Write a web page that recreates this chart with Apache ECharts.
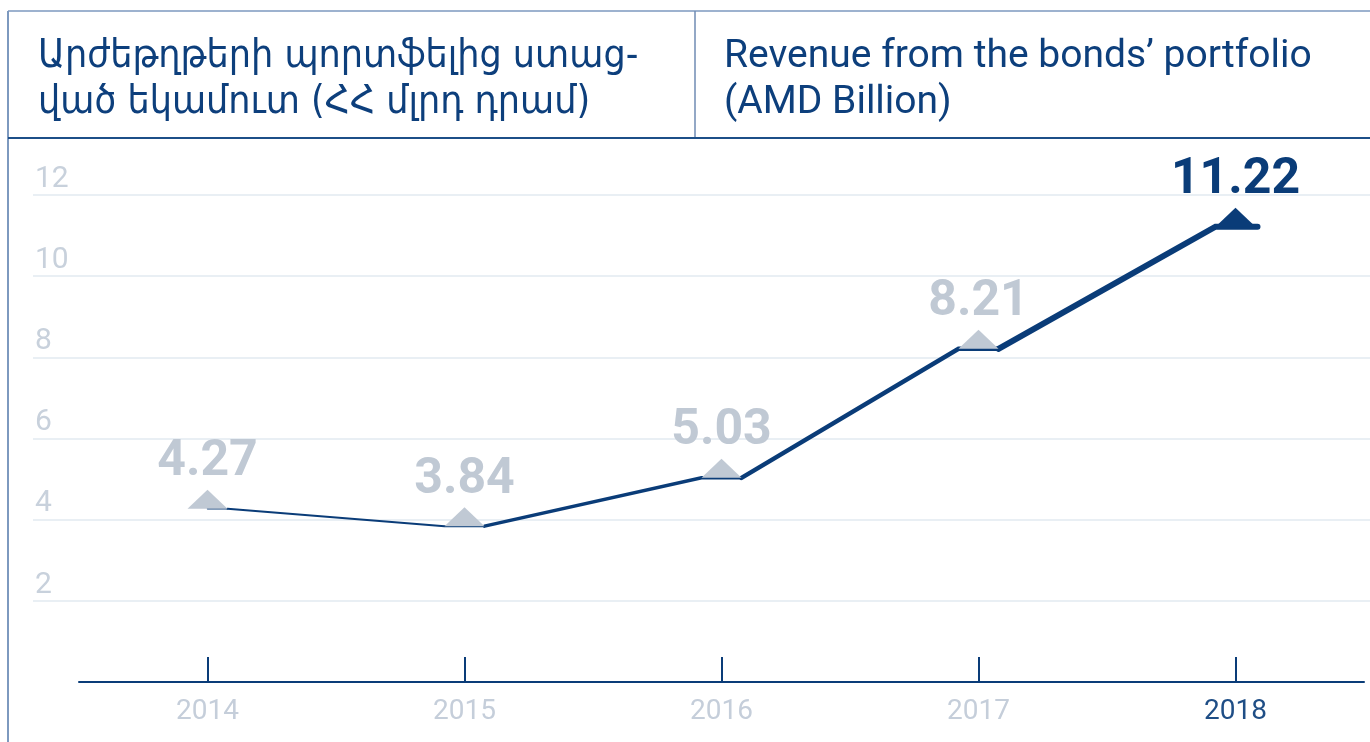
<!DOCTYPE html>
<html>
<head>
<meta charset="utf-8">
<script src="https://cdn.jsdelivr.net/npm/echarts@6/dist/echarts.min.js"></script>
<style>
html,body{margin:0;padding:0;background:#fff;}
#chart{width:1370px;height:742px;}
</style>
</head>
<body>
<div id="chart"></div>
<script>
// ---- data ----
const categories = ['2014', '2015', '2016', '2017', '2018'];
const values = [4.27, 3.84, 5.03, 8.21, 11.22];
const valueLabels = ['4.27', '3.84', '5.03', '8.21', '11.22'];
const yTicks = [2, 4, 6, 8, 10, 12];
const titleAm = ['Արժեթղթերի պորտֆելից ստաց-', 'ված եկամուտ (ՀՀ մլրդ դրամ)'];
const titleEn = ['Revenue from the bonds’ portfolio', '(AMD Billion)'];

// ---- styles ----
const NAVY = '#0a3c78';
const GRAY = '#c0c9d4';
const TEXT_NAVY = '#0d3f7c';
const segWidths = [1.5, 2, 3.5, 4.5, 6];
const last = categories.length - 1;

const chart = echarts.init(document.getElementById('chart'), null, {renderer: 'canvas'});

const lineData = values.map((v, i) => [i, v, i > 0 ? values[i - 1] : v]);
const triData = values.map((v, i) => ({
  value: [categories[i], v],
  itemStyle: {color: i === last ? NAVY : GRAY, opacity: 1},
  label: {color: i === last ? NAVY : GRAY, formatter: valueLabels[i]}
}));

const option = {
  animation: false,
  backgroundColor: '#fff',
  grid: [
    {left: 33, right: 0, top: 195, bottom: 141},
    {left: 79, right: 6, top: 195, bottom: 60}
  ],
  xAxis: [
    {gridIndex: 0, type: 'value', show: false, min: 0, max: 1},
    {
      gridIndex: 1, type: 'category', data: categories, boundaryGap: true,
      axisLine: {show: true, lineStyle: {color: NAVY, width: 2}},
      axisTick: {show: true, inside: true, length: 25, alignWithLabel: true, lineStyle: {color: NAVY, width: 2}},
      axisLabel: {
        margin: 16,
        formatter: (v, i) => i === last ? '{hi|' + v + '}' : '{lo|' + v + '}',
        rich: {
          lo: {color: '#c5ceda', fontSize: 28, fontFamily: 'Roboto'},
          hi: {color: '#1f4e86', fontSize: 28, fontFamily: 'Roboto'}
        }
      },
      splitLine: {show: false}
    }
  ],
  yAxis: [
    {
      gridIndex: 0, type: 'value', min: yTicks[0], max: yTicks[yTicks.length - 1], interval: 2,
      axisLine: {show: false}, axisTick: {show: false},
      axisLabel: {inside: true, margin: 2, verticalAlign: 'bottom', padding: [0, 0, 1, 0],
        color: '#c8d1dc', fontSize: 30, fontFamily: 'Roboto'},
      splitLine: {show: true, lineStyle: {color: '#e2eaf1', width: 1.5}}
    },
    {
      gridIndex: 1, type: 'value', min: 0, max: 12, interval: 2, show: false,
      splitLine: {show: false}
    }
  ],
  series: [
    {
      type: 'custom',
      xAxisIndex: 1, yAxisIndex: 1,
      clip: false,
      z: 2,
      data: lineData,
      renderItem: function (params, api) {
        const i = api.value(0);
        const cur = api.coord([i, api.value(1)]);
        const w = segWidths[i];
        let pts;
        if (i === 0) {
          pts = [[cur[0], cur[1]], [cur[0] + 20, cur[1]]];
        } else {
          const prev = api.coord([i - 1, api.value(2)]);
          pts = [[prev[0] + 20, prev[1]], [cur[0] - 20, cur[1]], [cur[0] + (i === last ? 22 : 20), cur[1]]];
        }
        return {
          type: 'polyline',
          shape: {points: pts},
          style: {stroke: NAVY, lineWidth: w, fill: null, lineCap: 'round', lineJoin: 'miter'}
        };
      }
    },
    {
      type: 'scatter',
      xAxisIndex: 1, yAxisIndex: 1,
      z: 3,
      symbol: 'triangle',
      symbolSize: [40, 19],
      symbolOffset: [0, -9.5],
      itemStyle: {opacity: 1},
      data: triData,
      label: {
        show: true, position: 'top', distance: 2,
        fontSize: 50, fontWeight: 'bold', fontFamily: 'Roboto', lineHeight: 50
      }
    }
  ],
  graphic: [
    {type: 'line', shape: {x1: 8, y1: 11, x2: 1370, y2: 11}, style: {stroke: '#7d99bf', lineWidth: 1.5}, z: 10},
    {type: 'line', shape: {x1: 8, y1: 11, x2: 8, y2: 742}, style: {stroke: '#7d99bf', lineWidth: 2}, z: 10},
    {type: 'line', shape: {x1: 695, y1: 11, x2: 695, y2: 138}, style: {stroke: '#6f8bb3', lineWidth: 1.5}, z: 10},
    {type: 'line', shape: {x1: 8, y1: 138, x2: 1370, y2: 138}, style: {stroke: '#1c4f88', lineWidth: 2}, z: 10},
    {type: 'text', x: 38, y: 57, style: {text: titleAm[0], fill: TEXT_NAVY, font: 'normal 39px "DejaVu Sans Condensed", "DejaVu Sans", sans-serif', verticalAlign: 'middle'}, z: 10},
    {type: 'text', x: 38, y: 103, style: {text: titleAm[1], fill: TEXT_NAVY, font: 'normal 39px "DejaVu Sans Condensed", "DejaVu Sans", sans-serif', verticalAlign: 'middle'}, z: 10},
    {type: 'text', x: 724, y: 57, style: {text: titleEn[0], fill: TEXT_NAVY, font: 'normal 39px Roboto, sans-serif', verticalAlign: 'middle'}, z: 10},
    {type: 'text', x: 724, y: 103, style: {text: titleEn[1], fill: TEXT_NAVY, font: 'normal 39px Roboto, sans-serif', verticalAlign: 'middle'}, z: 10}
  ]
};
chart.setOption(option);
</script>
</body>
</html>
